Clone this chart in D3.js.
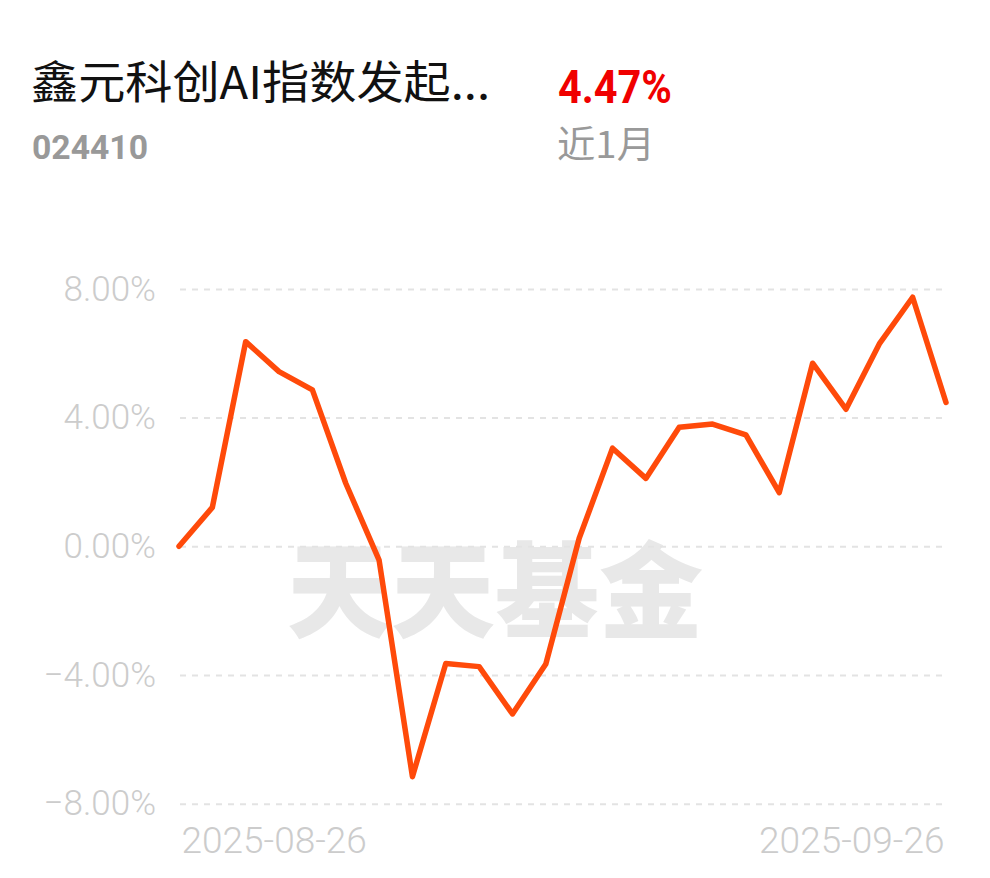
<!DOCTYPE html>
<html><head><meta charset="utf-8">
<script src="https://cdn.jsdelivr.net/npm/d3@7/dist/d3.min.js"></script>
<style>html,body{margin:0;padding:0;background:#fff;}svg{display:block;}</style>
</head><body>
<script>
const dates = ["2025-08-26","2025-08-27","2025-08-28","2025-08-29","2025-09-01","2025-09-02","2025-09-03","2025-09-04","2025-09-05","2025-09-08","2025-09-09","2025-09-10","2025-09-11","2025-09-12","2025-09-15","2025-09-16","2025-09-17","2025-09-18","2025-09-19","2025-09-22","2025-09-23","2025-09-24","2025-09-25","2025-09-26"];
const values = [0, 1.21, 6.36, 5.43, 4.86, 1.96, -0.43, -7.16, -3.64, -3.74, -5.21, -3.66, 0.25, 3.05, 2.11, 3.70, 3.80, 3.46, 1.67, 5.69, 4.26, 6.29, 7.74, 4.47];
const yTicks = [-8, -4, 0, 4, 8];
const xLabels = ["2025-08-26", "2025-09-26"];
const fundName = "鑫元科创AI指数发起...";
const fundCode = "024410";
const returnText = "4.47%";
const periodText = "近1月";
const watermark = "天天基金";

const W = 990, H = 878;
const svg = d3.select("body").append("svg").attr("width", W).attr("height", H);
const cjk = "'Noto Sans CJK SC', 'Noto Sans', sans-serif";
const num = "Roboto, 'Noto Sans', sans-serif";

// header
svg.append("text").attr("x", 31).attr("y", 99).attr("font-family", cjk).attr("font-size", 45)
  .attr("fill", "#111").attr("textLength", 459).attr("lengthAdjust", "spacingAndGlyphs").text(fundName);
svg.append("text").attr("x", 558).attr("y", 103).attr("font-family", num).attr("font-weight", 700).attr("font-size", 47)
  .attr("fill", "#f00000").attr("textLength", 114).attr("lengthAdjust", "spacingAndGlyphs").text(returnText);
svg.append("text").attr("x", 32).attr("y", 159).attr("font-family", num).attr("font-weight", 700).attr("font-size", 34)
  .attr("fill", "#999").attr("textLength", 116).attr("lengthAdjust", "spacingAndGlyphs").text(fundCode);
svg.append("text").attr("x", 557).attr("y", 158).attr("font-family", cjk).attr("font-size", 37)
  .attr("fill", "#999").attr("textLength", 98).attr("lengthAdjust", "spacingAndGlyphs").text(periodText);

const x = d3.scalePoint().domain(dates).range([179, 946]);
const y = d3.scaleLinear().domain([-8, 8]).range([803.7, 288.9]);

// watermark
svg.append("text").attr("x", 495).attr("y", 630).attr("text-anchor", "middle")
  .attr("font-family", cjk).attr("font-weight", 900).attr("font-size", 104)
  .attr("fill", "#e8e8e8").text(watermark);

// grid
const grid = svg.append("g").attr("transform", "translate(180,0)")
  .call(d3.axisLeft(y).tickValues(yTicks).tickSize(-766).tickFormat(""));
grid.select(".domain").remove();
grid.selectAll("line").attr("stroke", "#e3e3e3").attr("stroke-width", 2).attr("stroke-dasharray", "6,6");

// y labels
const yAx = svg.append("g").attr("transform", "translate(156,0)")
  .call(d3.axisLeft(y).tickValues(yTicks).tickSize(0).tickPadding(0).tickFormat(d => d3.format(".2f")(d) + "%"));
yAx.select(".domain").remove();
yAx.selectAll("text").attr("font-family", num).attr("font-size", 35).attr("font-weight", 300).attr("fill", "#cccccc");

// x labels
const xAx = svg.append("g").attr("transform", "translate(0,853)")
  .call(d3.axisBottom(x).tickValues(xLabels).tickSize(0).tickPadding(0));
xAx.select(".domain").remove();
xAx.selectAll("text").attr("font-family", num).attr("font-size", 37).attr("font-weight", 300).attr("fill", "#cccccc")
  .attr("dy", 0).attr("text-anchor", (d, i) => i === 0 ? "start" : "end")
  .attr("x", (d, i) => i === 0 ? 2 : -2);

// line
const line = d3.line().x((d, i) => x(dates[i])).y(d => y(d));
svg.append("path").datum(values).attr("d", line).attr("fill", "none")
  .attr("stroke", "#ff4a0a").attr("stroke-width", 5.5).attr("stroke-linejoin", "round").attr("stroke-linecap", "round");
</script>
</body></html>
